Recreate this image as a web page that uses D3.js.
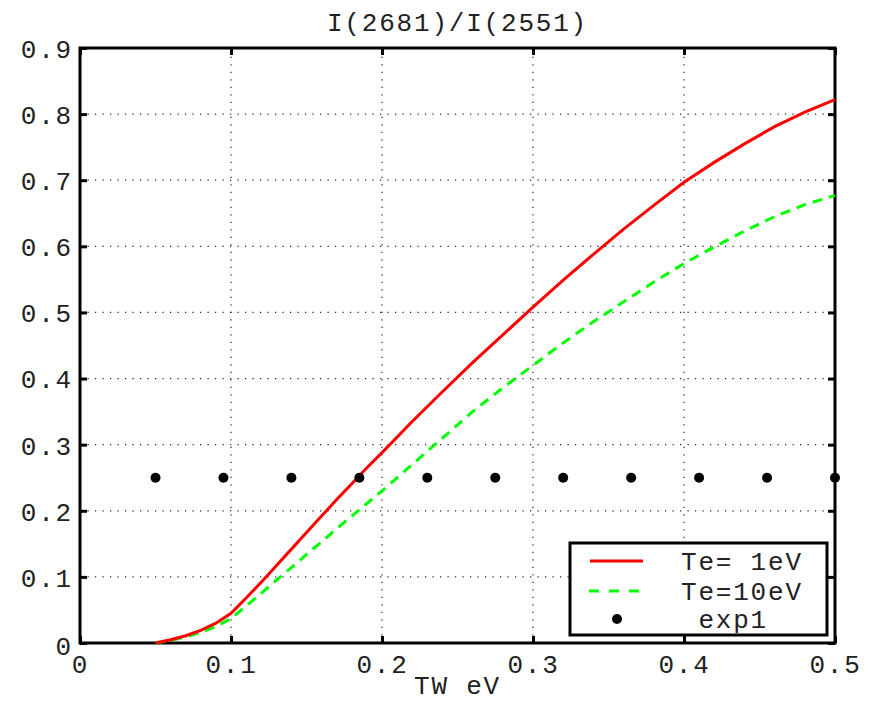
<!DOCTYPE html>
<html>
<head>
<meta charset="utf-8">
<script src="https://cdn.jsdelivr.net/npm/d3@7"></script>
<style>
  body { margin: 0; background: #fff; }
  text { font-family: "Liberation Mono", "Courier New", monospace; }
</style>
</head>
<body>
<div id="container"></div>
<script>
// ==================== data ==================== //

const titleText = "I(2681)/I(2551)";
const xLabelText = "TW eV";

const xTicks = [0, 0.1, 0.2, 0.3, 0.4, 0.5];
const yTicks = [0, 0.1, 0.2, 0.3, 0.4, 0.5, 0.6, 0.7, 0.8, 0.9];

const twValues = [0.05, 0.06, 0.07, 0.08, 0.09, 0.1, 0.11, 0.12, 0.13, 0.14, 0.15, 0.16, 0.17, 0.18, 0.19, 0.2,
    0.22, 0.24, 0.26, 0.28, 0.3, 0.32, 0.34, 0.36, 0.38, 0.4, 0.42, 0.44, 0.46, 0.48, 0.5];
const te1Values = [0, 0.005, 0.011, 0.019, 0.03, 0.045, 0.068, 0.092, 0.117, 0.142, 0.167, 0.192, 0.217, 0.241, 0.265, 0.288,
    0.335, 0.38, 0.424, 0.466, 0.508, 0.549, 0.588, 0.626, 0.662, 0.697, 0.727, 0.755, 0.781, 0.803, 0.822];
const te10Values = [0, 0.004, 0.009, 0.016, 0.025, 0.037, 0.056, 0.075, 0.095, 0.114, 0.134, 0.153, 0.173, 0.192, 0.211, 0.23,
    0.27, 0.31, 0.35, 0.386, 0.42, 0.454, 0.486, 0.516, 0.546, 0.574, 0.599, 0.623, 0.645, 0.663, 0.677];

const expX = [0.05, 0.095, 0.14, 0.185, 0.23, 0.275, 0.32, 0.365, 0.41, 0.455, 0.5];
const expY = [0.25, 0.25, 0.25, 0.25, 0.25, 0.25, 0.25, 0.25, 0.25, 0.25, 0.25];

const legendLabels = ["Te= 1eV", "Te=10eV", " exp1"];

// ==================== chart ==================== //

const width = 876, height = 703;
const margin = { top: 48, right: 41, bottom: 60, left: 80 };
const plotW = width - margin.left - margin.right;
const plotH = height - margin.top - margin.bottom;

const svg = d3.select("#container")
    .append("svg")
    .attr("width", width)
    .attr("height", height);

const x = d3.scaleLinear().domain([0, 0.5]).range([margin.left, margin.left + plotW]);
const y = d3.scaleLinear().domain([0, 0.9]).range([margin.top + plotH, margin.top]);

const fontSize = 26;
const spacing = "1.8px";
const textColor = "#222";

// grid
const grid = svg.append("g");
grid.selectAll("line.gx")
    .data(xTicks.slice(1, -1))
    .join("line")
    .attr("x1", d => x(d)).attr("x2", d => x(d))
    .attr("y1", y(0)).attr("y2", y(0.9))
    .attr("stroke", "#222").attr("stroke-width", 1.2)
    .attr("stroke-dasharray", "1.2,6.3");
grid.selectAll("line.gy")
    .data(yTicks.slice(1, -1))
    .join("line")
    .attr("x1", x(0)).attr("x2", x(0.5))
    .attr("y1", d => y(d)).attr("y2", d => y(d))
    .attr("stroke", "#222").attr("stroke-width", 1.2)
    .attr("stroke-dasharray", "1.2,6.3");

// axes with inward ticks on all sides
const tickLen = 7;
const axisStyle = g => {
    g.select(".domain").remove();
    g.selectAll(".tick line").attr("stroke", "#000").attr("stroke-width", 3);
    g.selectAll(".tick text")
        .attr("font-family", "Liberation Mono, monospace")
        .attr("font-size", fontSize)
        .attr("letter-spacing", spacing)
        .attr("fill", textColor);
};

svg.append("g")
    .attr("transform", `translate(0,${y(0)})`)
    .call(d3.axisBottom(x).tickValues(xTicks).tickFormat(d3.format("")).tickSizeInner(-tickLen).tickPadding(10))
    .call(axisStyle)
    .call(g => g.selectAll(".tick text").attr("dy", "0.75em"));
svg.append("g")
    .attr("transform", `translate(0,${y(0.9)})`)
    .call(d3.axisTop(x).tickValues(xTicks).tickSizeInner(-tickLen).tickFormat(""))
    .call(axisStyle);
svg.append("g")
    .attr("transform", `translate(${x(0)},0)`)
    .call(d3.axisLeft(y).tickValues(yTicks).tickFormat(d3.format("")).tickSizeInner(-tickLen).tickPadding(7))
    .call(axisStyle)
    .call(g => g.selectAll(".tick text").attr("dy", (d) => d === 0 ? "0.45em" : "0.36em"));
svg.append("g")
    .attr("transform", `translate(${x(0.5)},0)`)
    .call(d3.axisRight(y).tickValues(yTicks).tickSizeInner(-tickLen).tickFormat(""))
    .call(axisStyle);

// frame
svg.append("rect")
    .attr("x", x(0)).attr("y", y(0.9))
    .attr("width", plotW).attr("height", plotH)
    .attr("fill", "none").attr("stroke", "#000").attr("stroke-width", 3);

// curves
const line = d3.line()
    .x(d => x(d[0]))
    .y(d => y(d[1]));

svg.append("path")
    .datum(d3.zip(twValues, te10Values))
    .attr("d", line)
    .attr("fill", "none")
    .attr("stroke", "#00ff00")
    .attr("stroke-width", 3)
    .attr("stroke-dasharray", "10,7");

svg.append("path")
    .datum(d3.zip(twValues, te1Values))
    .attr("d", line)
    .attr("fill", "none")
    .attr("stroke", "#ff0000")
    .attr("stroke-width", 3);

svg.append("g")
    .selectAll("circle")
    .data(d3.zip(expX, expY))
    .join("circle")
    .attr("cx", d => x(d[0]))
    .attr("cy", d => y(d[1]))
    .attr("r", 5)
    .attr("fill", "#000");

// title & x label
svg.append("text")
    .attr("x", x(0.25)).attr("y", 31)
    .attr("text-anchor", "middle")
    .attr("font-size", fontSize)
    .attr("letter-spacing", spacing)
    .attr("fill", textColor)
    .text(titleText);

svg.append("text")
    .attr("x", x(0.25)).attr("y", 694)
    .attr("text-anchor", "middle")
    .attr("font-size", fontSize)
    .attr("letter-spacing", spacing)
    .attr("fill", textColor)
    .text(xLabelText);

// legend
const legend = svg.append("g").attr("transform", "translate(570,543)");
legend.append("rect")
    .attr("width", 257).attr("height", 92)
    .attr("fill", "#fff").attr("stroke", "#000").attr("stroke-width", 3);

const rowY = [18, 48, 76];
legend.append("line")
    .attr("x1", 20).attr("x2", 73).attr("y1", rowY[0]).attr("y2", rowY[0])
    .attr("stroke", "#ff0000").attr("stroke-width", 3);
legend.append("line")
    .attr("x1", 19).attr("x2", 73).attr("y1", rowY[1]).attr("y2", rowY[1])
    .attr("stroke", "#00ff00").attr("stroke-width", 3)
    .attr("stroke-dasharray", "10,10");
legend.append("circle")
    .attr("cx", 47).attr("cy", rowY[2]).attr("r", 5).attr("fill", "#000");

legend.selectAll("text")
    .data(legendLabels)
    .join("text")
    .attr("x", 111)
    .attr("y", (d, i) => rowY[i])
    .attr("dy", "0.36em")
    .attr("font-size", fontSize)
    .attr("letter-spacing", spacing)
    .attr("fill", textColor)
    .style("white-space", "pre")
    .text(d => d);
</script>
</body>
</html>
